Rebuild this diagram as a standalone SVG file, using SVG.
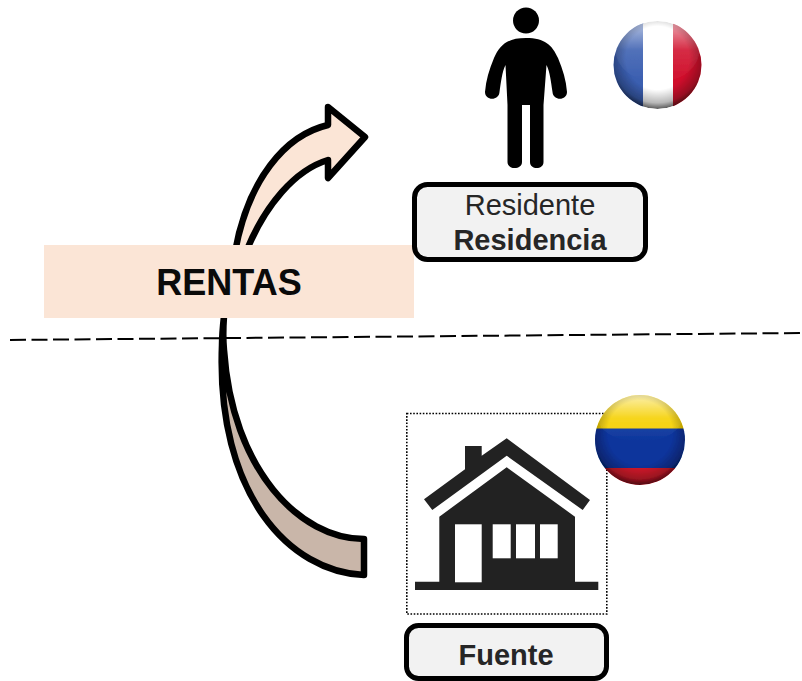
<svg xmlns="http://www.w3.org/2000/svg" width="802" height="681" viewBox="0 0 802 681">
<style>
.arrow{stroke:#000;stroke-width:6.5;stroke-linejoin:round;stroke-linecap:round}
.lbl{fill:#f2f2f2;stroke:#000;stroke-width:5}
text{font-family:"Liberation Sans",Arial,sans-serif;fill:#262626;text-anchor:middle;font-size:29px}
.b{font-weight:bold}
</style>
<defs>
<radialGradient id="shade" cx="50%" cy="42%" r="58%">
<stop offset="0.62" stop-color="#000" stop-opacity="0"/>
<stop offset="0.88" stop-color="#000" stop-opacity="0.28"/>
<stop offset="1" stop-color="#000" stop-opacity="0.65"/>
</radialGradient>
<linearGradient id="gloss" x1="0" y1="0" x2="0" y2="1">
<stop offset="0" stop-color="#fff" stop-opacity="0.7"/>
<stop offset="0.5" stop-color="#fff" stop-opacity="0.12"/>
<stop offset="1" stop-color="#fff" stop-opacity="0"/>
</linearGradient>
<filter id="soft" x="-5%" y="-5%" width="110%" height="110%"><feGaussianBlur stdDeviation="0.7"/></filter>
<clipPath id="frClip"><circle cx="657.5" cy="65" r="44"/></clipPath>
<clipPath id="coClip"><circle cx="640" cy="440" r="45"/></clipPath>
</defs>
<g id="connectors">
<path id="arrow-up" class="arrow" fill="#fbe5d6" d="M235 252C248 180 285 135 328 125L328 107L365 137L328 178L328 160C295 170 265 205 246 252Z"/>
<path id="arrow-down" class="arrow" fill="#c9b6a9" d="M364 575C290 572 216 495 222 345C222 335 223 325 224 316C223 330 223 340 224 350C232 470 300 539 364 539Z"/>
<path id="divider" fill="none" stroke="#000" stroke-width="2" stroke-dasharray="16 5.5" d="M10 340L802 333"/>
</g>
<g id="rentas">
<rect x="44" y="245" width="370" height="73" fill="#fbe5d6"/>
<text class="b" x="229" y="295" style="font-size:36px;fill:#0a0a0a">RENTAS</text>
</g>
<g id="residente">
<path id="person" d="M526 38C545 38 552 45 558 58C563 70 566 80 567 92C567 101 553 101 552.500 92C551 82 550 72 546.500 65L543.500 105V162C543.500 170 530 170 530 162V105H522V162C522 170 507.500 170 507.500 162V105L505.500 65C502 72 501 82 499.500 92C499 101 485 101 485 92C486 80 489 70 494 58C500 45 507 38 526 38Z"/>
<circle cx="526" cy="20.500" r="13"/>
<rect class="lbl" x="414.500" y="184.500" width="231" height="75" rx="13"/>
<text x="530" y="215">Residente</text>
<text class="b" x="530" y="250">Residencia</text>
</g>
<g id="flag-france" filter="url(#soft)"><g clip-path="url(#frClip)">
<rect x="613" y="21" width="31" height="89" fill="#3a5eb0"/>
<rect x="643" y="21" width="30" height="89" fill="#fff"/>
<rect x="673" y="21" width="30" height="89" fill="#d0102c"/>
<ellipse cx="657.500" cy="50" rx="42" ry="32" fill="url(#gloss)"/>
<circle cx="657.500" cy="65" r="44" fill="url(#shade)"/>
</g></g>
<g id="fuente">
<rect x="406.800" y="413.500" width="200" height="200.500" fill="#fff" stroke="#000" stroke-width="1.600" stroke-dasharray="1.600 1.600"/>
<path id="house" fill="#222" d="M506.700 438.300L590 500L582.700 510L506.700 455.700L432.300 510L424 499.300L465 469.300V446H481.700V455.700ZM506.700 467.300L575 516.700V581.700H598.300V590H415V581.700H439.300V516.700Z"/>
<g fill="#fff">
<rect x="455" y="524.300" width="26.700" height="58"/>
<rect x="492.700" y="524.300" width="18" height="34"/>
<rect x="516" y="524.300" width="19" height="34"/>
<rect x="540" y="524.300" width="17.700" height="34"/>
</g>
<rect class="lbl" x="406.500" y="625.500" width="200" height="53" rx="12"/>
<text class="b" x="506" y="665">Fuente</text>
</g>
<g id="flag-colombia" filter="url(#soft)"><g clip-path="url(#coClip)">
<rect x="594" y="394" width="92" height="35" fill="#f5d000"/>
<rect x="594" y="428.500" width="92" height="40" fill="#0a349c"/>
<rect x="594" y="468" width="92" height="18" fill="#d81a2c"/>
<ellipse cx="640" cy="418" rx="42" ry="24" fill="url(#gloss)"/>
<circle cx="640" cy="440" r="45" fill="url(#shade)"/>
</g></g>
</svg>
